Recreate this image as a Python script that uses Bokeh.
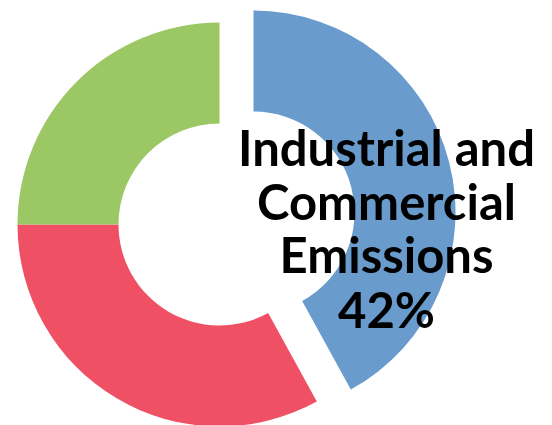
import math
from bokeh.plotting import figure
from bokeh.models import Range1d, ColumnDataSource
from bokeh.core.properties import value
from bokeh.embed import file_html
from bokeh.resources import INLINE

# Data
categories = ["Industrial and Commercial Emissions", "Category 2", "Category 3"]
percents = [42, 33, 25]
colors = ["#699BCC", "#F05064", "#9BC864"]
label_lines = ["Industrial and", "Commercial", "Emissions", "42%"]

W, H = 552, 425
p = figure(width=W, height=H, output_backend="svg", toolbar_location=None,
           x_range=Range1d(0, W), y_range=Range1d(0, H), min_border=0)
p.axis.visible = False
p.grid.visible = False
p.outline_line_color = None
p.background_fill_color = "white"

cx, cy = 219, 201
R_out, R_in = 202, 101
explode = [(34, 12), (0, 0), (0, 0)]

total = sum(percents)
start = 0.0
xs, ys, sa, ea = [], [], [], []
for i, v in enumerate(percents):
    frac = v / total
    th0 = start * 2 * math.pi
    th1 = (start + frac) * 2 * math.pi
    sa.append(math.pi / 2 - th0)
    ea.append(math.pi / 2 - th1)
    xs.append(cx + explode[i][0])
    ys.append(cy + explode[i][1])
    start += frac

src = ColumnDataSource(dict(x=xs, y=ys, sa=sa, ea=ea, color=colors, cat=categories))
p.annular_wedge(x="x", y="y", inner_radius=R_in, outer_radius=R_out,
                start_angle="sa", end_angle="ea", direction="clock",
                fill_color="color", line_color=None, source=src)

tx = 386
ty = [279, 225, 172, 117]
p.text(x=[tx] * len(label_lines), y=ty, text=label_lines,
       text_font=value("Lato"), text_font_style="bold", text_font_size="49px",
       text_align="center", text_baseline="alphabetic", text_color="black")

open("out.html", "w").write(file_html(p, INLINE))
